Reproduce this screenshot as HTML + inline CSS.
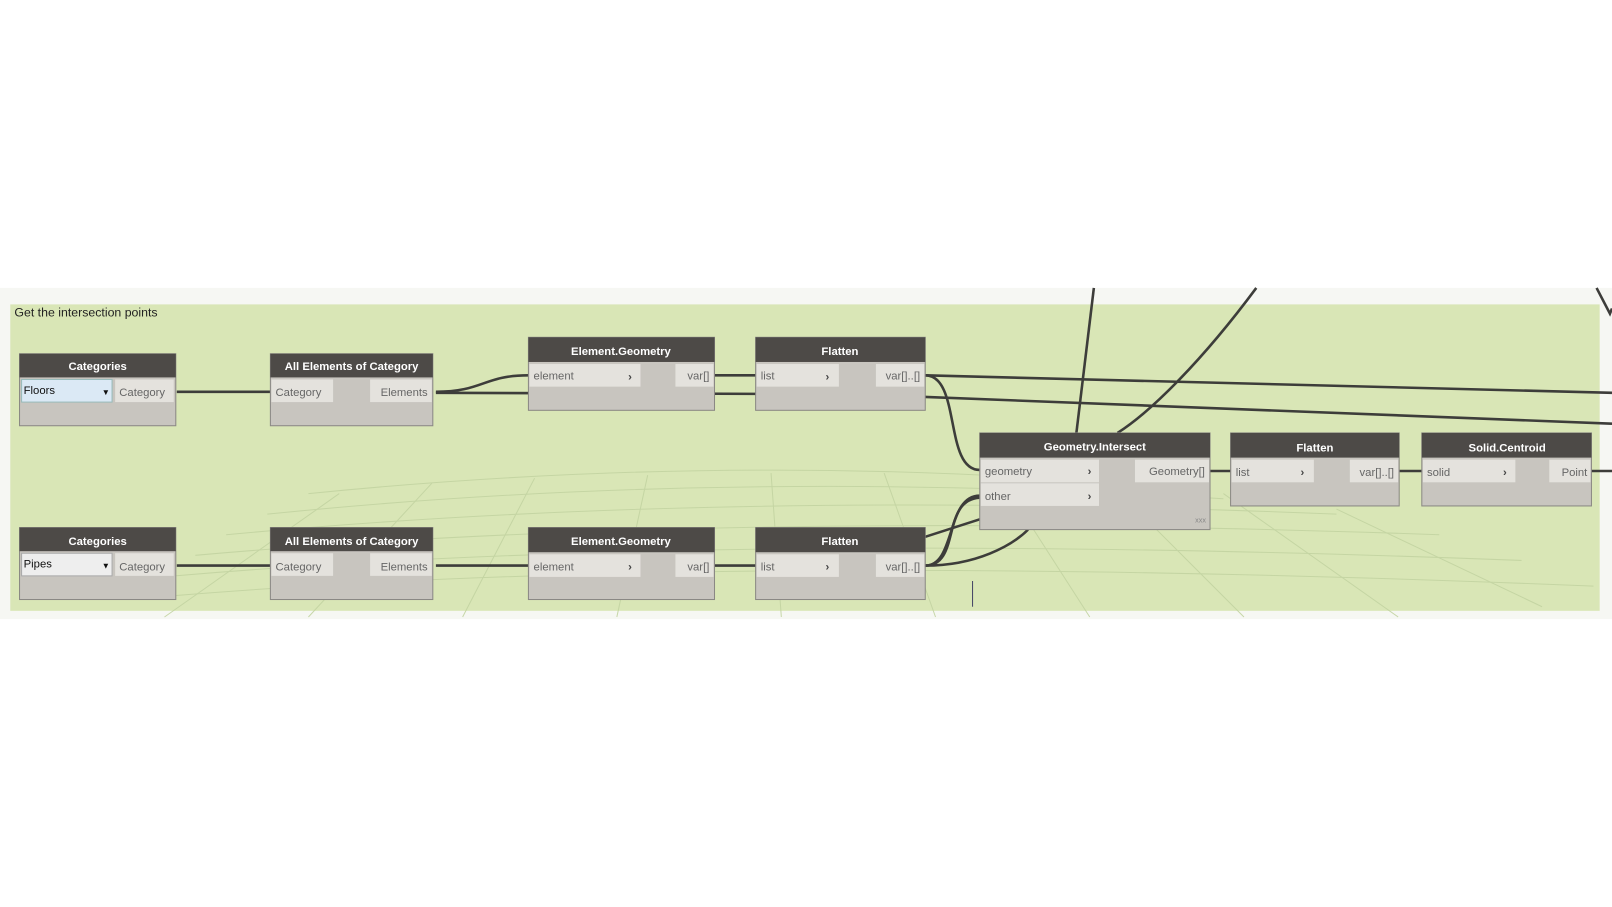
<!DOCTYPE html>
<html><head><meta charset="utf-8"><style>html,body{margin:0;padding:0;background:#fff;width:1612px;height:907px;overflow:hidden}svg{display:block}text{font-family:"Liberation Sans",sans-serif}</style></head><body>
<svg width="1612" height="907" viewBox="0 0 1568 882" preserveAspectRatio="none" xmlns="http://www.w3.org/2000/svg">
<rect x="0" y="280" width="1568" height="322" fill="#f6f7f3"/>
<rect x="10" y="296" width="1546" height="298" fill="#d9e6b6"/>
<g stroke="#c3d4a2" stroke-width="1" fill="none" opacity="0.9">
<path d="M160,600 L330,480 M300,600 L420,470 M450,600 L520,465 M600,600 L630,462 M760,600 L750,460 M910,600 L860,460 M1060,600 L970,460 M1210,600 L1080,470 M1360,600 L1190,480 M1500,590 L1300,495"/>
<path d="M300,480 Q700,440 1080,470 M260,500 Q700,455 1190,485 M220,520 Q700,475 1300,500 M190,540 Q700,495 1400,520 M170,560 Q700,515 1480,545 M160,580 Q700,535 1550,570"/>
</g>
<text x="14" y="308" font-size="12" fill="#222">Get the intersection points</text>
<g stroke="#3d3d3a" stroke-width="2.5" fill="none">
<path d="M172,381 L263,381"/>
<path d="M424,381 C470,381 470,365 514,365"/>
<path d="M424,382 L735,383 L900,386 L1568,412"/>
<path d="M695,365 L735,365"/>
<path d="M900,365 L1568,382"/>
<path d="M900,365 C935,365 918,457 953,457"/>
<path d="M172,550 L263,550"/>
<path d="M424,550 L514,550"/>
<path d="M695,550 L735,550"/>
<path d="M900,550 C930,550 920,482 953,482"/>
<path d="M900,550 C935,550 915,486 953,484"/>
<path d="M900,550 C950,550 985,530 1000,515"/>
<path d="M900,522 L953,505"/>
<path d="M1064,280 L1047,421"/>
<path d="M1222,280 C1170,350 1120,400 1087,421"/>
<path d="M1553,280 L1566,305 L1568,300"/>
<path d="M1177,458 L1197,458 M1361,458 L1383,458 M1548,458 L1568,458"/>
</g>
<!-- nodes -->
<g font-size="11">
<!-- Categories 1 -->
<rect x="19" y="344" width="152" height="70" fill="#c8c5bf" stroke="#8a8884"/>
<rect x="19" y="344" width="152" height="23" fill="#4d4a47"/>
<text x="95" y="360" text-anchor="middle" fill="#fff" font-weight="bold">Categories</text>
<rect x="21" y="369" width="88" height="22" fill="#dbe9f5" stroke="#9bb"/>
<text x="23" y="383" fill="#111">Floors</text><text x="99" y="384" font-size="8" fill="#111">▼</text>
<rect x="112" y="369" width="57" height="22" fill="#e4e2dd"/><text x="116" y="385" fill="#666">Category</text>
<!-- Categories 2 -->
<rect x="19" y="513" width="152" height="70" fill="#c8c5bf" stroke="#8a8884"/>
<rect x="19" y="513" width="152" height="23" fill="#4d4a47"/>
<text x="95" y="530" text-anchor="middle" fill="#fff" font-weight="bold">Categories</text>
<rect x="21" y="538" width="88" height="22" fill="#eeeeee" stroke="#aaa"/>
<text x="23" y="552" fill="#111">Pipes</text><text x="99" y="553" font-size="8" fill="#111">▼</text>
<rect x="112" y="538" width="57" height="22" fill="#e4e2dd"/><text x="116" y="555" fill="#666">Category</text>
<!-- AllElements 1 -->
<rect x="263" y="344" width="158" height="70" fill="#c8c5bf" stroke="#8a8884"/>
<rect x="263" y="344" width="158" height="23" fill="#4d4a47"/>
<text x="342" y="360" text-anchor="middle" fill="#fff" font-weight="bold">All Elements of Category</text>
<rect x="264" y="369" width="60" height="22" fill="#e4e2dd"/><text x="268" y="385" fill="#666">Category</text>
<rect x="360" y="369" width="60" height="22" fill="#e4e2dd"/><text x="416" y="385" text-anchor="end" fill="#666">Elements</text>
<!-- AllElements 2 -->
<rect x="263" y="513" width="158" height="70" fill="#c8c5bf" stroke="#8a8884"/>
<rect x="263" y="513" width="158" height="23" fill="#4d4a47"/>
<text x="342" y="530" text-anchor="middle" fill="#fff" font-weight="bold">All Elements of Category</text>
<rect x="264" y="538" width="60" height="22" fill="#e4e2dd"/><text x="268" y="555" fill="#666">Category</text>
<rect x="360" y="538" width="60" height="22" fill="#e4e2dd"/><text x="416" y="555" text-anchor="end" fill="#666">Elements</text>
<!-- Element.Geometry 1 -->
<rect x="514" y="328" width="181" height="71" fill="#c8c5bf" stroke="#8a8884"/>
<rect x="514" y="328" width="181" height="24" fill="#4d4a47"/>
<text x="604" y="345" text-anchor="middle" fill="#fff" font-weight="bold">Element.Geometry</text>
<rect x="515" y="354" width="108" height="22" fill="#e4e2dd"/><text x="519" y="369" fill="#666">element</text><text x="611" y="370" fill="#444" font-weight="bold">›</text>
<rect x="657" y="354" width="37" height="22" fill="#e4e2dd"/><text x="690" y="369" text-anchor="end" fill="#666">var[]</text>
<!-- Element.Geometry 2 -->
<rect x="514" y="513" width="181" height="70" fill="#c8c5bf" stroke="#8a8884"/>
<rect x="514" y="513" width="181" height="24" fill="#4d4a47"/>
<text x="604" y="530" text-anchor="middle" fill="#fff" font-weight="bold">Element.Geometry</text>
<rect x="515" y="539" width="108" height="22" fill="#e4e2dd"/><text x="519" y="555" fill="#666">element</text><text x="611" y="555" fill="#444" font-weight="bold">›</text>
<rect x="657" y="539" width="37" height="22" fill="#e4e2dd"/><text x="690" y="555" text-anchor="end" fill="#666">var[]</text>
<!-- Flatten 1 -->
<rect x="735" y="328" width="165" height="71" fill="#c8c5bf" stroke="#8a8884"/>
<rect x="735" y="328" width="165" height="24" fill="#4d4a47"/>
<text x="817" y="345" text-anchor="middle" fill="#fff" font-weight="bold">Flatten</text>
<rect x="736" y="354" width="80" height="22" fill="#e4e2dd"/><text x="740" y="369" fill="#666">list</text><text x="803" y="370" fill="#444" font-weight="bold">›</text>
<rect x="852" y="354" width="47" height="22" fill="#e4e2dd"/><text x="895" y="369" text-anchor="end" fill="#666">var[]..[]</text>
<!-- Flatten 2 -->
<rect x="735" y="513" width="165" height="70" fill="#c8c5bf" stroke="#8a8884"/>
<rect x="735" y="513" width="165" height="24" fill="#4d4a47"/>
<text x="817" y="530" text-anchor="middle" fill="#fff" font-weight="bold">Flatten</text>
<rect x="736" y="539" width="80" height="22" fill="#e4e2dd"/><text x="740" y="555" fill="#666">list</text><text x="803" y="555" fill="#444" font-weight="bold">›</text>
<rect x="852" y="539" width="47" height="22" fill="#e4e2dd"/><text x="895" y="555" text-anchor="end" fill="#666">var[]..[]</text>
<!-- Geometry.Intersect -->
<rect x="953" y="421" width="224" height="94" fill="#c8c5bf" stroke="#8a8884"/>
<rect x="953" y="421" width="224" height="24" fill="#4d4a47"/>
<text x="1065" y="438" text-anchor="middle" fill="#fff" font-weight="bold">Geometry.Intersect</text>
<rect x="954" y="447" width="115" height="22" fill="#e4e2dd"/><text x="958" y="462" fill="#666">geometry</text><text x="1058" y="462" fill="#444" font-weight="bold">›</text>
<rect x="954" y="470" width="115" height="22" fill="#e4e2dd"/><text x="958" y="486" fill="#666">other</text><text x="1058" y="486" fill="#444" font-weight="bold">›</text>
<rect x="1104" y="447" width="72" height="22" fill="#e4e2dd"/><text x="1172" y="462" text-anchor="end" fill="#666">Geometry[]</text>
<text x="1173" y="508" text-anchor="end" font-size="7" fill="#888">xxx</text>
<!-- Flatten 3 -->
<rect x="1197" y="421" width="164" height="71" fill="#c8c5bf" stroke="#8a8884"/>
<rect x="1197" y="421" width="164" height="24" fill="#4d4a47"/>
<text x="1279" y="439" text-anchor="middle" fill="#fff" font-weight="bold">Flatten</text>
<rect x="1198" y="447" width="80" height="22" fill="#e4e2dd"/><text x="1202" y="463" fill="#666">list</text><text x="1265" y="463" fill="#444" font-weight="bold">›</text>
<rect x="1313" y="447" width="47" height="22" fill="#e4e2dd"/><text x="1356" y="463" text-anchor="end" fill="#666">var[]..[]</text>
<!-- Solid.Centroid -->
<rect x="1383" y="421" width="165" height="71" fill="#c8c5bf" stroke="#8a8884"/>
<rect x="1383" y="421" width="165" height="24" fill="#4d4a47"/>
<text x="1466" y="439" text-anchor="middle" fill="#fff" font-weight="bold">Solid.Centroid</text>
<rect x="1384" y="447" width="90" height="22" fill="#e4e2dd"/><text x="1388" y="463" fill="#666">solid</text><text x="1462" y="463" fill="#444" font-weight="bold">›</text>
<rect x="1507" y="447" width="40" height="22" fill="#e4e2dd"/><text x="1544" y="463" text-anchor="end" fill="#666">Point</text>
</g>
<path d="M946,565 L946,590" stroke="#446" stroke-width="1"/>
</svg>
</body></html>
